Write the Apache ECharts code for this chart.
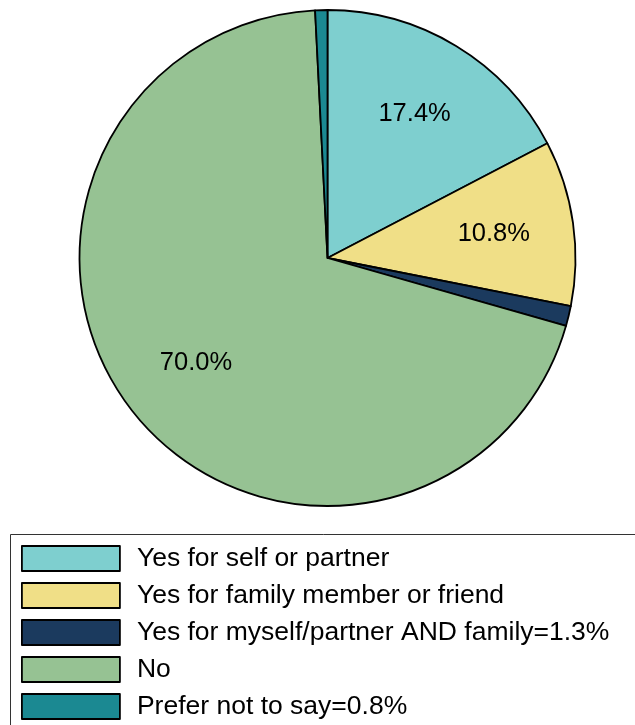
<!DOCTYPE html>
<html>
<head>
<meta charset="utf-8">
<script src="https://cdn.jsdelivr.net/npm/echarts@6/dist/echarts.min.js"></script>
<style>
  html, body { margin: 0; padding: 0; background: #fff; }
  #chart { width: 635px; height: 725px; }
</style>
</head>
<body>
<div id="chart"></div>
<script>
// categories and percentages, clockwise from 12 o'clock
var categories = ['Yes for self or partner', 'Yes for family member or friend',
  'Yes for myself/partner AND family=1.3%', 'No', 'Prefer not to say=0.8%'];
var percents = [17.4, 10.8, 1.3, 70.0, 0.8];
var colors = ['#7ecfcf', '#f0df87', '#1b3a5e', '#96c293', '#1b8992'];
// which slices carry a percentage label on the pie
var showLabel = [true, true, false, true, false];

var chart = echarts.init(document.getElementById('chart'));

var pieData = categories.map(function (name, i) {
  return { name: name, value: percents[i], itemStyle: { color: colors[i] } };
});
var labelData = categories.map(function (name, i) {
  return { name: name, value: percents[i], label: { show: showLabel[i] } };
});

var option = {
  animation: false,
  textStyle: { fontFamily: 'Liberation Sans, Arial, sans-serif' },
  legend: {
    orient: 'vertical',
    left: 21,
    top: 545,
    height: 400,
    padding: 0,
    itemWidth: 98,
    itemHeight: 25,
    itemGap: 10,
    selectedMode: false,
    icon: 'rect',
    itemStyle: { borderColor: '#000', borderWidth: 1.8 },
    textStyle: {
      fontSize: 26.5,
      lineHeight: 26,
      color: '#000',
      padding: [0, 0, 0, 12],
      fontFamily: 'Liberation Sans, Arial, sans-serif'
    },
    data: categories
  },
  graphic: [{
    type: 'rect',
    shape: { x: 10.5, y: 534.5, width: 700, height: 300 },
    style: { fill: 'none', stroke: '#333', lineWidth: 1 },
    z: -1
  }],
  series: [
    {
      name: 'pie',
      type: 'pie',
      center: [327.5, 258],
      radius: [0, 248],
      startAngle: 90,
      clockwise: true,
      silent: true,
      label: { show: false },
      labelLine: { show: false },
      itemStyle: { borderColor: '#000', borderWidth: 1.8 },
      data: pieData
    },
    {
      name: 'labels',
      type: 'pie',
      center: [327.5, 258],
      radius: [82, 248],
      startAngle: 90,
      clockwise: true,
      silent: true,
      itemStyle: { color: 'rgba(0,0,0,0)', borderWidth: 0 },
      label: {
        position: 'inside',
        fontSize: 25.5,
        color: '#000',
        fontFamily: 'Liberation Sans, Arial, sans-serif',
        formatter: function (p) { return p.value.toFixed(1) + '%'; }
      },
      labelLine: { show: false },
      data: labelData
    }
  ]
};

chart.setOption(option);
</script>
</body>
</html>
